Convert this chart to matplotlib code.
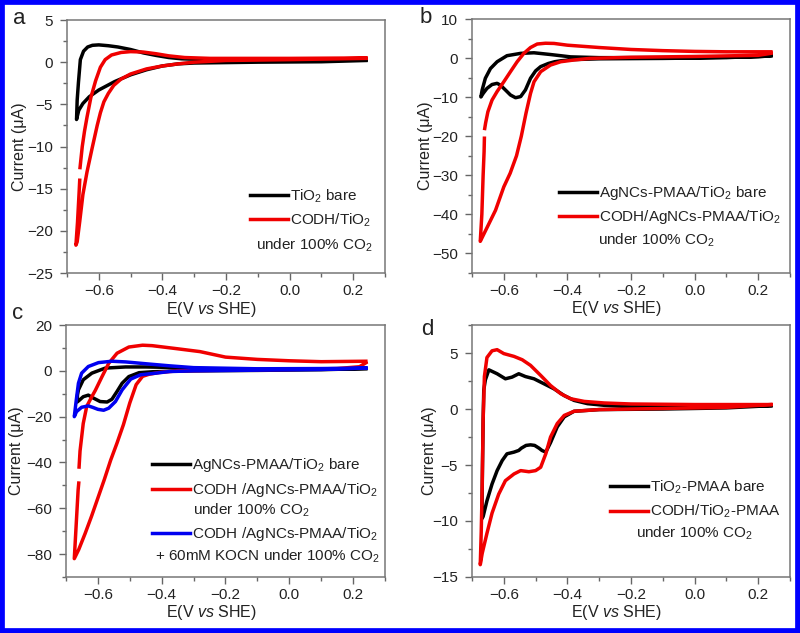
import numpy as np
import matplotlib.pyplot as plt
from matplotlib.patches import Rectangle
from matplotlib.ticker import MultipleLocator

plt.rcParams['font.family'] = ['Liberation Sans', 'DejaVu Sans']
plt.rcParams['mathtext.fontset'] = 'custom'
plt.rcParams['mathtext.rm'] = 'Liberation Sans'
plt.rcParams['mathtext.it'] = 'Liberation Sans:italic'
plt.rcParams['mathtext.bf'] = 'Liberation Sans:bold'
plt.rcParams['axes.unicode_minus'] = True

nan = np.nan

# CV loops: E (V vs SHE), I (uA). start at +0.24 V, sweep to -0.67 V and back.
# nan = small break in the trace seen in the original

# (a) TiO2
a_bare_E = [0.24, 0.10, -0.10, -0.30, -0.35, -0.40, -0.45, -0.50, -0.55, -0.60, -0.63, -0.65, -0.663, -0.670,
            -0.668, -0.664, -0.658, -0.648, -0.635, -0.62, -0.60, -0.57, -0.54, -0.50, -0.46, -0.42, -0.38, -0.34, -0.30, -0.20, 0.00, 0.24]
a_bare_I = [0.2, 0.05, 0.0, -0.1, -0.2, -0.45, -0.9, -1.5, -2.3, -3.3, -4.1, -4.9, -5.7, -6.8,
            -4.5, -2.4, 0.3, 1.3, 1.8, 2.0, 2.05, 1.95, 1.8, 1.5, 1.1, 0.8, 0.55, 0.4, 0.35, 0.3, 0.3, 0.3]
a_codh_E = [0.24, 0.0, -0.2, -0.3, -0.35, -0.40, -0.45, -0.50, -0.53, -0.553, -0.57, -0.584, -0.595, -0.605, -0.621, -0.637, -0.65, -0.66, -0.668, -0.672,
            -0.667, -0.662, -0.660, nan, -0.659, -0.652, -0.645, -0.637, -0.625, -0.61, -0.595, -0.58, -0.56, -0.53, -0.50, -0.46, -0.42, -0.38, -0.33, -0.25, 0.0, 0.24]
a_codh_I = [0.45, 0.3, 0.2, 0.0, -0.2, -0.45, -0.8, -1.4, -2.0, -2.75, -3.7, -4.7, -6.0, -7.5, -10.2, -13.0, -15.7, -18.9, -21.3, -21.7,
            -19.0, -15.5, -14.0, nan, -12.5, -10.0, -8.2, -6.5, -4.2, -2.2, -0.6, 0.3, 0.85, 1.15, 1.25, 1.2, 1.0, 0.75, 0.55, 0.45, 0.45, 0.5]

# (b) AgNCs-PMAA/TiO2
b_bare_E = [0.24, 0.10, -0.10, -0.30, -0.38, -0.42, -0.44, -0.46, -0.484, -0.50, -0.516, -0.532, -0.547, -0.563, -0.579, -0.595, -0.61, -0.621, -0.637, -0.653, -0.665, -0.672,
            -0.668, -0.658, -0.642, -0.621, -0.59, -0.547, -0.505, -0.453, -0.39, -0.30, 0.0, 0.20, 0.24]
b_bare_I = [0.7, 0.2, 0.0, -0.1, -0.3, -0.6, -0.85, -1.3, -2.1, -3.2, -5.1, -8.1, -9.8, -10.1, -9.4, -8.1, -6.9, -6.4, -6.7, -7.7, -9.0, -9.9,
            -8.1, -5.1, -2.6, -0.85, 0.7, 1.3, 1.45, 1.0, 0.4, 0.2, 0.2, 0.4, 0.7]
b_codh_E = [0.24, 0.20, 0.0, -0.2, -0.33, -0.379, -0.421, -0.453, -0.484, -0.505, -0.516, -0.53, -0.545, -0.56, -0.58, -0.60, -0.626, -0.65, -0.665, -0.674,
            -0.669, -0.665, -0.662, -0.661, nan, -0.660, -0.657, -0.65, -0.637, -0.621, -0.60, -0.579, -0.558, -0.537, -0.516, -0.495, -0.469, -0.442, -0.40, -0.30, -0.20, -0.10, 0.0, 0.10, 0.24]
b_codh_I = [1.3, 0.8, 0.5, 0.3, 0.0, -0.4, -0.85, -1.7, -3.4, -6.0, -9.0, -14.0, -20.0, -25.0, -29.5, -33.0, -39.0, -43.0, -45.5, -47.0,
            -40.0, -30.0, -24.0, -20.5, nan, -18.0, -16.5, -13.7, -10.7, -8.5, -6.0, -3.4, -0.85, 1.3, 2.8, 3.7, 3.9, 3.85, 3.4, 2.8, 2.3, 2.0, 1.8, 1.7, 1.7]

# (c) AgNCs-PMAA/TiO2, with and without KOCN
c_bare_E = [0.24, 0.10, -0.10, -0.30, -0.38, -0.429, -0.471, -0.503, -0.524, -0.54, -0.556, -0.571, -0.593, -0.614, -0.63, -0.646, -0.658, -0.665,
            -0.664, -0.661, -0.646, -0.619, -0.577, -0.513, -0.45, -0.376, -0.30, -0.10, 0.10, 0.24]
c_bare_I = [1.0, 0.5, 0.2, 0.0, -0.2, -0.4, -0.8, -2.5, -5.4, -9.0, -12.4, -13.6, -13.4, -11.9, -10.6, -11.3, -12.8, -13.6,
            -10.5, -8.3, -3.9, -1.0, 1.2, 1.7, 1.7, 1.5, 1.0, 0.7, 0.8, 1.0]
c_codh_E = [0.24, 0.22, 0.15, 0.0, -0.2, -0.35, -0.407, -0.44, -0.46, -0.48, -0.50, -0.52, -0.54, -0.56, -0.58, -0.60, -0.62, -0.64, -0.66, -0.674,
            -0.670, -0.666, -0.662, -0.660, nan, -0.659, -0.656, -0.646, -0.635, -0.62, -0.608, -0.587, -0.566, -0.54, -0.503, -0.46, -0.43, -0.354, -0.28, -0.20, -0.10, 0.0, 0.10, 0.24]
c_codh_I = [3.5, 1.8, 1.0, 0.6, 0.3, 0.0, -0.7, -1.5, -2.4, -6.0, -14.0, -23.5, -31.5, -39.0, -47.5, -55.5, -63.5, -71.0, -78.0, -82.0,
            -72.0, -62.0, -52.0, -49.0, nan, -42.0, -35.0, -23.0, -15.5, -11.5, -8.5, -2.5, 3.3, 7.7, 10.4, 11.2, 11.0, 9.7, 8.4, 6.0, 5.0, 4.4, 4.0, 4.2]
c_kocn_E = [0.24, 0.10, -0.10, -0.30, -0.376, -0.418, -0.466, -0.497, -0.524, -0.545, -0.566, -0.582, -0.60, -0.615, -0.63, -0.651, -0.667, -0.674,
            -0.668, -0.661, -0.651, -0.63, -0.598, -0.556, -0.513, -0.45, -0.376, -0.30, -0.10, 0.10, 0.24]
c_kocn_I = [1.2, 0.6, 0.3, 0.0, -0.3, -1.0, -1.7, -3.6, -8.3, -13.4, -16.3, -17.2, -16.8, -16.0, -15.3, -15.9, -17.8, -20.0,
            -13.0, -5.4, -1.0, 1.9, 3.6, 4.2, 3.9, 3.1, 2.2, 1.4, 0.9, 1.0, 1.2]

# (d) TiO2-PMAA
d_bare_E = [0.24, 0.10, -0.10, -0.30, -0.379, -0.41, -0.432, -0.453, -0.468, -0.48, -0.489, -0.503, -0.516, -0.53, -0.545, -0.553, -0.568, -0.59, -0.605, -0.621, -0.637, -0.653, -0.665, -0.669,
            -0.667, -0.665, -0.663, -0.658, -0.647, -0.621, -0.595, -0.574, -0.553, -0.532, -0.505, -0.474, -0.442, -0.41, -0.379, -0.337, -0.284, -0.20, 0.0, 0.24]
d_bare_I = [0.3, 0.1, 0.0, -0.05, -0.2, -0.7, -1.6, -3.0, -3.85, -3.7, -3.5, -3.25, -3.2, -3.25, -3.5, -3.7, -3.85, -4.0, -4.6, -5.5, -6.7, -8.2, -9.6, -9.8,
            -5.0, -1.0, 1.7, 2.6, 3.5, 3.15, 2.7, 2.85, 3.15, 2.9, 2.7, 2.26, 1.8, 1.2, 0.77, 0.48, 0.33, 0.25, 0.2, 0.3]
d_codh_E = [0.24, 0.10, -0.10, -0.30, -0.379, -0.41, -0.432, -0.453, -0.468, -0.484, -0.50, -0.521, -0.547, -0.568, -0.595, -0.616, -0.637, -0.653, -0.668, -0.674,
            -0.671, -0.668, -0.665, -0.661, -0.653, -0.637, -0.621, -0.60, -0.568, -0.542, -0.516, -0.484, -0.453, -0.421, -0.39, -0.347, -0.284, -0.20, 0.0, 0.24]
d_codh_I = [0.4, 0.15, 0.05, -0.05, -0.2, -0.57, -1.3, -2.5, -4.0, -5.2, -5.5, -5.6, -5.5, -5.8, -6.4, -7.6, -9.3, -11.1, -12.9, -13.9,
            -11.0, -7.0, -1.0, 2.9, 4.6, 5.2, 5.3, 4.95, 4.7, 4.4, 3.9, 3.0, 2.1, 1.37, 0.92, 0.68, 0.54, 0.45, 0.4, 0.4]

BLACK = '#000000'
RED = '#f00000'
BLUE = '#0000f0'
TXT = '#222222'
LW = 2.5
FS = 11


def style(ax, ylim, ystep, ylab_x):
    ax.set_xlim(-0.7, 0.3)
    ax.set_ylim(*ylim)
    ax.set_xticks([-0.6, -0.4, -0.2, 0.0, 0.2])
    ax.set_xticklabels(['\u22120.6', '\u22120.4', '\u22120.2', '0.0', '0.2'])
    ax.xaxis.set_minor_locator(MultipleLocator(0.1))
    ax.yaxis.set_major_locator(MultipleLocator(ystep))
    ax.yaxis.set_minor_locator(MultipleLocator(ystep / 2))
    ax.tick_params(which='both', direction='out', top=False, right=False,
                   color='#666666', labelcolor=TXT, labelsize=FS, width=1)
    ax.tick_params(which='major', length=5)
    ax.tick_params(which='minor', length=3)
    ax.tick_params(axis='y', which='major', pad=5)
    ax.tick_params(axis='x', which='major', pad=3)
    for s in ax.spines.values():
        s.set_color('#777777')
        s.set_linewidth(1.1)
    ax.set_xlabel('E(V $\\it{vs}$ SHE)', fontsize=FS + 0.5, color=TXT)
    ax.set_ylabel('Current (μA)', fontsize=FS + 0.5, color=TXT)
    ax.xaxis.set_label_coords(0.455, -0.105)
    ax.yaxis.set_label_coords(ylab_x, 0.5)


def legend(ax, lines, labels, x, top, spacing):
    return ax.legend(lines, labels, loc='upper left', bbox_to_anchor=(x, top),
                     frameon=False, borderpad=0, borderaxespad=0, handlelength=2.5,
                     handletextpad=0.12, labelspacing=spacing, fontsize=FS, labelcolor=TXT)


fig = plt.figure(figsize=(8, 6.33), dpi=100)
axa = fig.add_axes([0.08375, 0.5687, 0.3975, 0.3997])
axb = fig.add_axes([0.59, 0.5695, 0.3975, 0.3997])
axc = fig.add_axes([0.0825, 0.0885, 0.39875, 0.398])
axd = fig.add_axes([0.59, 0.0885, 0.3975, 0.398])

# a
la1, = axa.plot(a_bare_E, a_bare_I, color=BLACK, lw=LW)
la2, = axa.plot(a_codh_E, a_codh_I, color=RED, lw=LW)
style(axa, (-25, 5), 5, -0.126)
legend(axa, [la1, la2], ['TiO$_2$ bare', 'CODH/TiO$_2$'], 0.575, 0.337, 0.4)
axa.text(0.962, 0.091, 'under 100% CO$_2$', transform=axa.transAxes, ha='right', va='baseline', fontsize=FS, color=TXT)

# b
lb1, = axb.plot(b_bare_E, b_bare_I, color=BLACK, lw=LW)
lb2, = axb.plot(b_codh_E, b_codh_I, color=RED, lw=LW)
style(axb, (-55, 10), 10, -0.123)
legend(axb, [lb1, lb2], ['AgNCs-PMAA/TiO$_2$ bare', 'CODH/AgNCs-PMAA/TiO$_2$'], 0.274, 0.35, 0.42)
axb.text(0.397, 0.111, 'under 100% CO$_2$', transform=axb.transAxes, ha='left', va='baseline', fontsize=FS, color=TXT)

# c
lc1, = axc.plot(c_bare_E, c_bare_I, color=BLACK, lw=LW)
lc2, = axc.plot(c_codh_E, c_codh_I, color=RED, lw=LW)
lc3, = axc.plot(c_kocn_E, c_kocn_I, color=BLUE, lw=LW)
style(axc, (-90, 20), 20, -0.132)
leg_c = legend(axc, [lc1, lc2], ['AgNCs-PMAA/TiO$_2$ bare', 'CODH /AgNCs-PMAA/TiO$_2$'], 0.27, 0.48, 0.47)
axc.add_artist(leg_c)
legend(axc, [lc3], ['CODH /AgNCs-PMAA/TiO$_2$'], 0.27, 0.205, 0.45)
axc.text(0.398, 0.246, 'under 100% CO$_2$', transform=axc.transAxes, ha='left', va='baseline', fontsize=FS, color=TXT)
axc.text(0.985, 0.065, '+ 60mM KOCN under 100% CO$_2$', transform=axc.transAxes, ha='right', va='baseline', fontsize=FS, color=TXT)

# d
ld1, = axd.plot(d_bare_E, d_bare_I, color=BLACK, lw=LW)
ld2, = axd.plot(d_codh_E, d_codh_I, color=RED, lw=LW)
style(axd, (-15, 7.5), 5, -0.11)
legend(axd, [ld1, ld2], ['TiO$_2$-PMAA bare', 'CODH/TiO$_2$-PMAA'], 0.434, 0.39, 0.45)
axd.text(0.7, 0.155, 'under 100% CO$_2$', transform=axd.transAxes, ha='center', va='baseline', fontsize=FS, color=TXT)

# panel letters
fig.text(0.0167, 1 - 24 / 633, 'a', fontsize=16, color=TXT)
fig.text(0.525, 1 - 23.3 / 633, 'b', fontsize=16, color=TXT)
fig.text(0.0146, 1 - 319.3 / 633, 'c', fontsize=16, color=TXT)
fig.text(0.526, 1 - 335 / 633, 'd', fontsize=16, color=TXT)

# blue frame round the figure
fig.add_artist(Rectangle((0, 0), 1, 1, transform=fig.transFigure, fill=False,
                         edgecolor='#0000ff', linewidth=7))

fig.savefig('out.png', dpi=100)
